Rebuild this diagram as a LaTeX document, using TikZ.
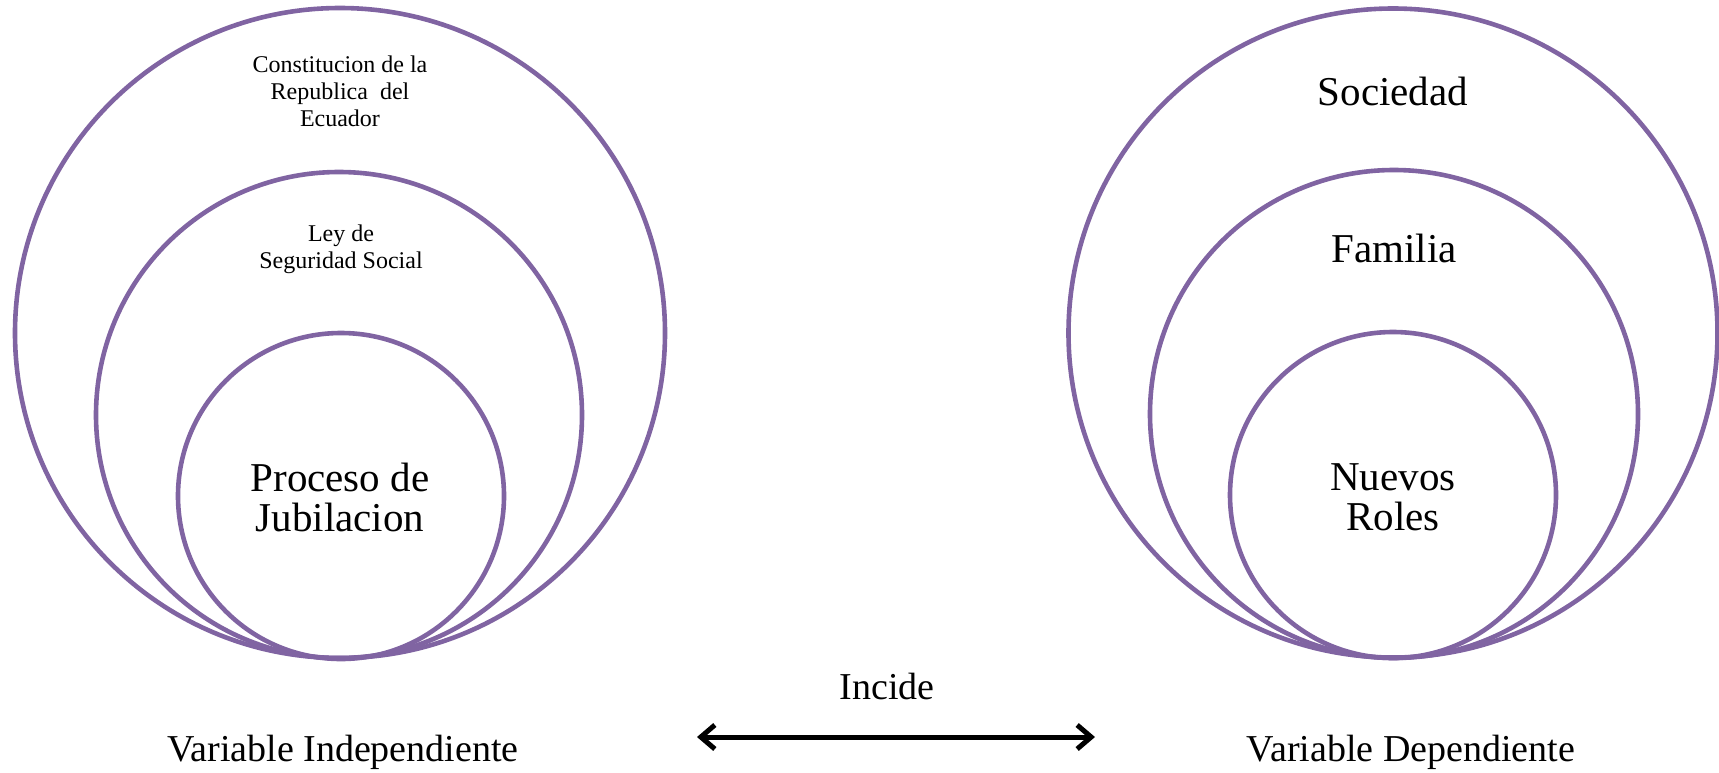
\documentclass[tikz,border=0pt]{standalone}
\usepackage{fontspec}
\setmainfont{Liberation Serif}
\usetikzlibrary{arrows.meta, positioning}
\definecolor{ringpurple}{RGB}{128,100,162}

\begin{document}
\begin{tikzpicture}[x=0.5pt, y=-0.5pt,
            ring/.style={draw=ringpurple, line width=2.3pt, circle, inner sep=0pt},
            smalltext/.style={align=center, font=\fontsize{12}{13.5}\selectfont},
            bigtext/.style={align=center, font=\fontsize{20.5}{20}\selectfont},
            label/.style={font=\fontsize{19}{21}\selectfont},
            arrow/.style={{Straight Barb[length=7pt, width=12pt, line width=2.5pt]}-{Straight Barb[length=7pt, width=12pt, line width=2.5pt]}, line width=2.5pt}
        ]
        \useasboundingbox (0,0) rectangle (1719,772);
        % variable independiente
        \node[ring, minimum size=325pt] (constitucion) at (340,333) {};
        \node[ring, minimum size=243pt] (ley) at (339,415) {};
        \node[ring, minimum size=163pt] (proceso) at (341,496) {};
        \node[smalltext] (tconst) at (340,91) {Constitucion de la\\Republica\ \ del\\Ecuador};
        \node[smalltext] (tley) at (341,249) {Ley de\\Seguridad Social};
        \node[bigtext] (tproc) at (340,497) {Proceso de\\Jubilacion};
        % variable dependiente
        \node[ring, minimum size=324.5pt] (sociedad) at (1393,333) {};
        \node[ring, minimum size=244pt] (familia) at (1394,414) {};
        \node[ring, minimum size=163pt] (roles) at (1393,495) {};
        \node[bigtext] (tsoc) at (1393,91) {Sociedad};
        \node[bigtext] (tfam) at (1394,248) {Familia};
        \node[bigtext] (troles) at (1393,497) {Nuevos\\Roles};
        % relacion
        \node[label] (incide) at (887,686) {Incide};
        \coordinate (incL) at (697,737);
        \coordinate (incR) at (1095,737);
        \draw[arrow] (incL) -- (incR);
        \node[label] (vind) at (343,752) {Variable Independiente};
        \node[label] (vdep) at (1411,752) {Variable Dependiente};
        \end{tikzpicture}
\end{document}
